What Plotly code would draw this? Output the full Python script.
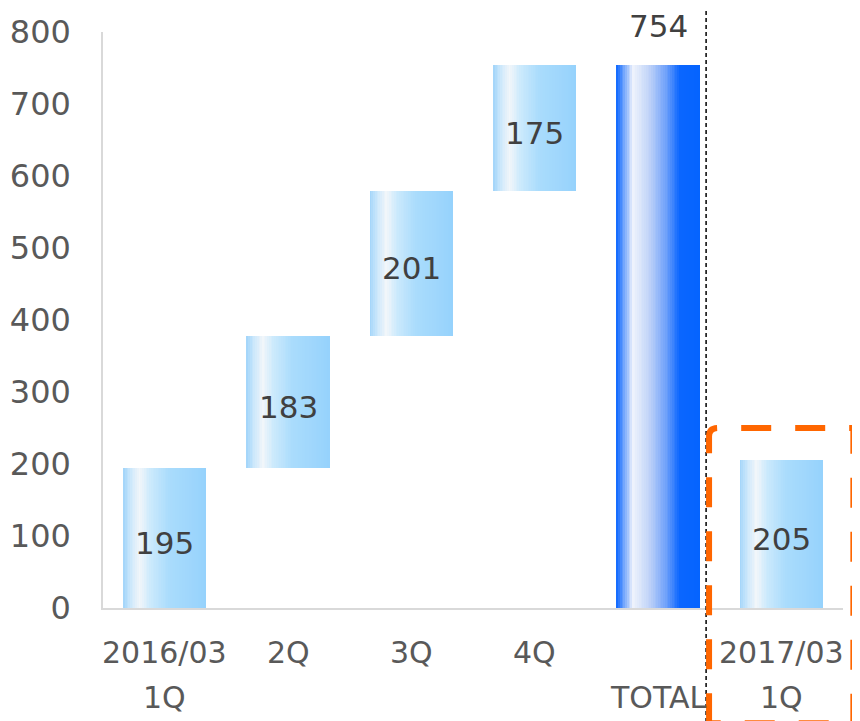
import plotly.graph_objects as go

# categories and labels
cats = ["2016/03 1Q", "2Q", "3Q", "4Q", "TOTAL", "2017/03 1Q"]
label_top = ["2016/03", "2Q", "3Q", "4Q", "", "2017/03"]
label_bottom = ["1Q", "", "", "", "TOTAL", "1Q"]

# values
quarters_2016 = [195, 183, 201, 175]
total_2016 = 754
q1_2017 = 205

values = quarters_2016 + [total_2016, q1_2017]
bases = []
run = 0
for v in quarters_2016:
    bases.append(run)
    run += v
bases += [0, 0]
is_total = [False, False, False, False, True, False]

# gradient stops (fraction across bar width, rgb)
light_stops = [(0.0, (160, 212, 250)), (0.08, (200, 230, 251)), (0.2, (242, 246, 250)),
               (0.32, (205, 234, 252)), (0.55, (170, 220, 252)), (1.0, (150, 210, 252))]
dark_stops = [(0.0, (10, 102, 255)), (0.07, (90, 150, 252)), (0.2, (240, 244, 252)),
              (0.4, (190, 210, 248)), (0.6, (110, 160, 250)), (0.76, (10, 102, 255)),
              (1.0, (5, 100, 255))]


def grad(stops, t):
    for (t0, c0), (t1, c1) in zip(stops[:-1], stops[1:]):
        if t0 <= t <= t1:
            f = (t - t0) / (t1 - t0)
            c = [round(a + (b - a) * f) for a, b in zip(c0, c1)]
            return "rgb(%d,%d,%d)" % tuple(c)
    return "rgb(%d,%d,%d)" % stops[-1][1]


bar_w = 0.675
n_slices = 48

fig = go.Figure()
for i in range(n_slices):
    t = (i + 0.5) / n_slices
    cols = [grad(dark_stops if tot else light_stops, t) for tot in is_total]
    fig.add_trace(go.Bar(
        x=cats, y=values, base=bases,
        width=bar_w * (1 - i / n_slices),
        offset=-bar_w / 2 + bar_w * i / n_slices,
        marker=dict(color=cols, line=dict(width=0)),
        hoverinfo="skip", showlegend=False,
    ))

annotations = [dict(x="TOTAL", y=total_2016, text=str(total_2016), showarrow=False,
                    yanchor="bottom", yshift=19,
                    font=dict(size=31, color="#404040"))]
# labels inside the step bars
for c, b, v, tot in zip(cats, bases, values, is_total):
    if not tot:
        annotations.append(dict(x=c, y=b + v / 2, text=str(v), showarrow=False,
                                yanchor="middle", yshift=-5,
                                font=dict(size=31, color="#404040")))
for c, a, b in zip(cats, label_top, label_bottom):
    if a:
        annotations.append(dict(x=c, y=-0.078, yref="paper", text=a, showarrow=False,
                                yanchor="middle", font=dict(size=30, color="#595959")))
    if b:
        annotations.append(dict(x=c, y=-0.156, yref="paper", text=b, showarrow=False,
                                yanchor="middle", font=dict(size=30, color="#595959")))

shapes = [
    # separator
    dict(type="line", xref="x", yref="paper", x0=4.39, x1=4.39, y0=-0.21, y1=1.1,
         line=dict(color="black", width=1.5, dash="4px,3px")),
    # highlight box
    dict(type="path", xref="paper", yref="paper",
         path="M 0.819,-0.2 L 0.819,0.298 Q 0.819,0.3125 0.831,0.3125 "
              "L 1.014,0.3125 L 1.014,-0.2 Z",
         line=dict(color="#ff6600", width=6, dash="30px,24px")),
]

fig.update_layout(
    width=860, height=721,
    margin=dict(l=95, r=25, t=24, b=121),
    plot_bgcolor="white", paper_bgcolor="white",
    barmode="overlay", bargap=0,
    font=dict(family="Verdana, DejaVu Sans", size=30, color="#595959"),
    annotations=annotations, shapes=shapes,
    xaxis=dict(range=[-0.5, 5.5], showticklabels=False, showline=True, automargin=False,
               linecolor="#d9d9d9", linewidth=1.5, showgrid=False, zeroline=False),
    yaxis=dict(range=[0, 800], dtick=100, showgrid=False, zeroline=False, automargin=False,
               showline=True, linecolor="#d9d9d9", linewidth=1.5,
               ticks="", ticklabelstandoff=24,
               tickfont=dict(size=32, color="#595959")),
)

fig.write_html("out.html")
